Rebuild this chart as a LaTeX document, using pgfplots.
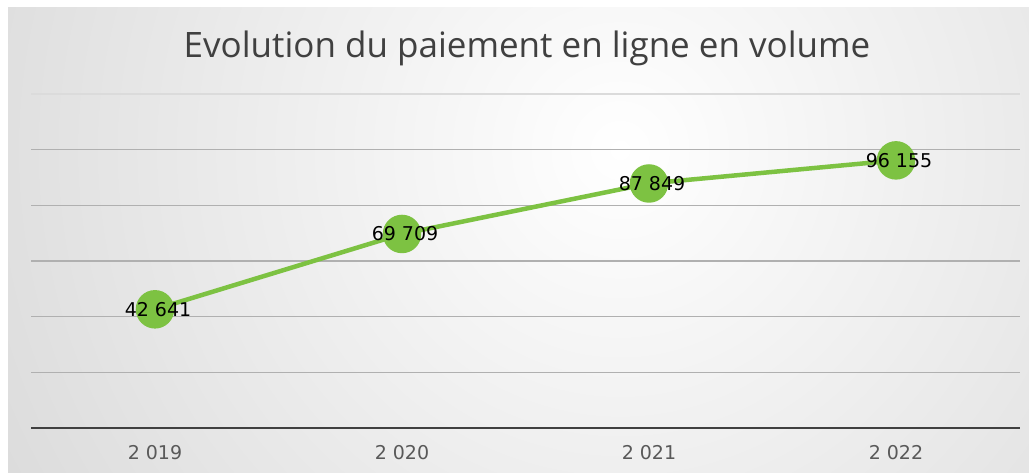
\documentclass[border=0pt]{standalone}
\usepackage{pgfplots}
\pgfplotsset{compat=1.18}
\usepackage{fontspec}
\setmainfont{DejaVu Sans}
\newfontfamily\titlefont{Open Sans}
\definecolor{lgreen}{HTML}{7DC242}
\definecolor{titlegray}{HTML}{404040}
\definecolor{tickgray}{HTML}{595959}
\definecolor{axisdark}{HTML}{404040}
\definecolor{gridgray}{HTML}{B0B0B0}
\begin{document}
\begin{tikzpicture}[x=1pt,y=1pt]
\path[use as bounding box] (0,0) rectangle (1029,472);
\fill[white] (0,0) rectangle (1029,472);
\begin{scope}
  \clip (8,0) rectangle (1029,464);
  \shade[inner color=white, outer color={rgb,255:red,184;green,184;blue,184}] (620,322) circle (1400);
\end{scope}
\node[font=\titlefont\fontsize{35}{42}\selectfont, text=titlegray] at (527,424) {Evolution du paiement en ligne en volume};
\begin{axis}[
  at={(31.5pt,44pt)}, anchor=south west,
  scale only axis, width=988pt, height=334pt,
  xmin=-0.5, xmax=3.5, ymin=0, ymax=120000,
  clip=false,
  scaled y ticks=false,
  axis x line*=bottom, axis y line*=left,
  x axis line style={draw=axisdark, line width=2.5pt, -},
  y axis line style={draw=none},
  xtick={0,1,2,3},
  xticklabels={2 019,2 020,2 021,2 022},
  xticklabel style={anchor=center, yshift=-25pt, font=\fontsize{19}{22}\selectfont, text=tickgray},
  ytick={20000,40000,60000,80000,100000},
  yticklabels={},
  extra y ticks={120000},
  extra y tick labels={},
  extra y tick style={grid style={draw=gridgray!45, line width=1.2pt}},
  major tick length=0pt,
  ymajorgrids,
  grid style={draw=gridgray, line width=1.2pt},
  point meta=explicit symbolic,
  nodes near coords,
  every node near coord/.append style={anchor=center, xshift=3pt, font=\fontsize{19}{22}\selectfont, text=black},
]
\addplot[draw=lgreen, line width=4.5pt, mark=*, mark size=17pt, mark options={fill=lgreen, draw=none}]
  coordinates {
    (0,42641) [42 641]
    (1,69709) [69 709]
    (2,87849) [87 849]
    (3,96155) [96 155]
  };
\end{axis}
\end{tikzpicture}
\end{document}
